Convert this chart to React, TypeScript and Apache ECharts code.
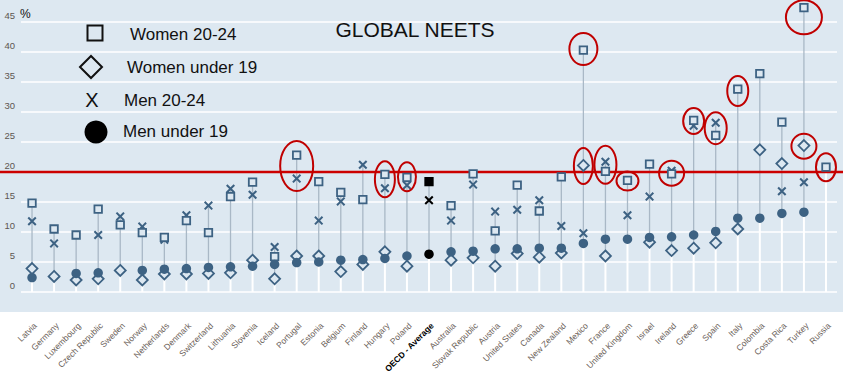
import React, { useEffect, useRef } from "react";
import * as echarts from "echarts";

const categories = [
  "Latvia", "Germany", "Luxembourg", "Czech Republic", "Sweden", "Norway", "Netherlands",
  "Denmark", "Switzerland", "Lithuania", "Slovenia", "Iceland", "Portugal", "Estonia",
  "Belgium", "Finland", "Hungary", "Poland", "OECD - Average", "Australia", "Slovak Republic",
  "Austria", "United States", "Canada", "New Zealand", "Mexico", "France", "United Kingdom",
  "Israel", "Ireland", "Greece", "Spain", "Italy", "Colombia", "Costa Rica", "Turkey", "Russia",
];

// Women 20-24 (squares)
const women2024: (number | null)[] = [
  14.8, 10.5, 9.5, 13.8, 11.2, 9.9, 9.1, 11.9, 9.9, 15.9, 18.3, 5.9, 22.8, 18.4,
  16.6, 15.4, 19.6, 19.1, 18.4, 14.4, 19.7, 10.2, 17.8, 13.5, 19.2, 40.3, 20.1, 18.6,
  21.3, 19.7, 28.6, 26.1, 33.8, 36.4, 28.3, 47.4, 20.8,
];
// Women under 19 (diamonds)
const womenUnder19: (number | null)[] = [
  3.9, 2.6, 2.0, 2.2, 3.6, 2.0, 3.0, 3.0, 3.1, 3.2, 5.3, 2.2, 6.0, 6.0,
  3.4, 4.6, 6.7, 4.3, null, 5.3, 5.7, 4.3, 6.4, 5.8, 6.5, 21.1, 6.0, null,
  8.3, 6.9, 7.3, 8.2, 10.5, 23.7, 21.4, 24.4, null,
];
// Men 20-24 (crosses)
const men2024: (number | null)[] = [
  11.8, 8.1, null, 9.5, 12.6, 10.9, 8.7, 12.8, 14.4, 17.2, 16.2, 7.5, 18.9, 11.9,
  15.1, 21.2, 17.3, 17.8, 15.3, 11.9, 17.9, 13.4, 13.7, 15.3, 11.0, 9.8, 21.7, 12.8,
  15.9, 20.2, 27.7, 28.2, 33.8, null, 16.8, 18.3, null,
];
// Men under 19 (circles)
const menUnder19: (number | null)[] = [
  2.4, null, 3.1, 3.2, null, 3.6, 3.8, 3.9, 4.1, 4.2, 4.3, 4.6, 4.9, 5.0,
  5.3, 5.4, 5.6, 6.0, 6.3, 6.7, 6.8, 7.2, 7.2, 7.3, 7.3, 8.1, 8.8, 8.8,
  9.1, 9.2, 9.5, 10.1, 12.3, 12.3, 13.1, 13.3, null,
];

const yMin = 0;
const yMax = 45;
const yInterval = 5;
const referenceLevel = 20;
const averageCategory = "OECD - Average";

// highlighted points: category and centre value of the red ring
const highlightCats = ["Portugal", "Hungary", "Poland", "Mexico", "Mexico", "France", "United Kingdom", "Ireland", "Greece", "Spain", "Italy", "Turkey", "Turkey", "Russia"];
const highlightValues = [21.0, 18.8, 19.2, 40.5, 21.0, 21.2, 18.5, 19.8, 28.5, 27.3, 33.5, 45.8, 24.3, 20.8];
const highlightRx = [16.5, 10, 9, 14, 9.5, 11, 11, 12.5, 10.5, 11, 10.5, 18, 12.5, 10];
const highlightRy = [25, 18, 14.5, 16, 18, 19, 9.5, 12.5, 13, 16, 15, 17, 12.5, 14];

const MARK = "#3d6283";
const BG = "#dde8f1";
const FONT = "Liberation Sans, Arial, sans-serif";
const X_PATH = "path://M0,1.6L1.6,0L5,3.4L8.4,0L10,1.6L6.6,5L10,8.4L8.4,10L5,6.6L1.6,10L0,8.4L3.4,5Z";

function toData(arr: (number | null)[], avgStyle: any) {
  const out: any[] = [];
  arr.forEach((v, i) => {
    if (v == null) return;
    if (categories[i] === averageCategory) out.push({ value: [i, v], itemStyle: avgStyle });
    else out.push({ value: [i, v] });
  });
  return out;
}

export default function App() {
  const ref = useRef<HTMLDivElement>(null);
  useEffect(() => {
    const chart = echarts.init(ref.current!, null, { renderer: "svg" });

    const rangeData = categories.map((_, i) => {
      const vals = [women2024[i], womenUnder19[i], men2024[i], menUnder19[i]].filter((v) => v != null) as number[];
      return [i, Math.min(...vals), Math.max(...vals)];
    });

    const option: any = {
      animation: false,
      backgroundColor: "#ffffff",
      grid: { left: 21, right: 6, top: 22, bottom: 88, containLabel: false },
      xAxis: {
        type: "category",
        data: categories,
        boundaryGap: true,
        axisLine: { show: false },
        axisTick: { show: false },
        splitLine: { show: false },
        axisLabel: {
          interval: 0,
          rotate: 45,
          fontSize: 8.5,
          fontFamily: FONT,
          color: "#6b6159",
          margin: 29,
          verticalAlign: "top",
          formatter: (v: string) => (v === averageCategory ? "{b|" + v + "}" : v),
          rich: { b: { fontWeight: "bold", color: "#000", fontSize: 8.5, fontFamily: FONT } },
        },
      },
      yAxis: {
        type: "value",
        min: yMin,
        max: yMax,
        interval: yInterval,
        axisLine: { show: false },
        axisTick: { show: false },
        splitLine: { lineStyle: { color: "#ffffff", width: 1.6 } },
        axisLabel: {
          fontSize: 9.5,
          fontFamily: FONT,
          color: "#5e5650",
          margin: 6,
          verticalAlign: "bottom",
          padding: [0, 0, 2, 0],
        },
      },
      series: [
        {
          type: "custom",
          name: "range",
          z: 1,
          clip: false,
          encode: { x: 0, y: [1, 2] },
          data: rangeData,
          renderItem: (params: any, api: any) => {
            const i = api.value(0);
            const lo = api.value(1);
            const hi = api.value(2);
            const p0 = api.coord([i, 0]);
            const pl = api.coord([i, lo]);
            const ph = api.coord([i, hi]);
            return {
              type: "group",
              children: [
                { type: "line", shape: { x1: p0[0], y1: p0[1], x2: pl[0], y2: pl[1] }, style: { stroke: "#ffffff", lineWidth: 2 } },
                { type: "line", shape: { x1: pl[0], y1: pl[1], x2: ph[0], y2: ph[1] }, style: { stroke: "#a9b8c6", lineWidth: 1.3 } },
              ],
            };
          },
        },
        {
          type: "scatter",
          name: "Men 20-24",
          z: 3,
          clip: false,
          symbol: X_PATH,
          symbolSize: 9,
          itemStyle: { color: MARK, opacity: 1 },
          data: toData(men2024, { color: "#000" }),
        },
        {
          type: "scatter",
          name: "Women 20-24",
          z: 4,
          clip: false,
          symbol: "rect",
          symbolSize: 7.5,
          itemStyle: { color: BG, borderColor: MARK, borderWidth: 1.8, opacity: 1 },
          data: toData(women2024, { color: "#000", borderColor: "#000" }),
        },
        {
          type: "scatter",
          name: "Women under 19",
          z: 3,
          clip: false,
          symbol: "diamond",
          symbolSize: 11,
          itemStyle: { color: BG, borderColor: MARK, borderWidth: 1.8, opacity: 1 },
          data: toData(womenUnder19, { borderColor: "#000" }),
        },
        {
          type: "scatter",
          name: "Men under 19",
          z: 4,
          clip: false,
          symbol: "circle",
          symbolSize: 9.5,
          itemStyle: { color: MARK, opacity: 1 },
          data: toData(menUnder19, { color: "#000" }),
        },
      ],
    };
    chart.setOption(option);

    const yRef = chart.convertToPixel({ gridIndex: 0 }, [0, referenceLevel])[1];
    const rings = highlightCats.map((c, k) => {
      const p = chart.convertToPixel({ gridIndex: 0 }, [categories.indexOf(c), highlightValues[k]]);
      return {
        type: "ellipse",
        z: 20,
        silent: true,
        shape: { cx: p[0], cy: p[1], rx: highlightRx[k], ry: highlightRy[k] },
        style: { fill: "none", stroke: "#c00000", lineWidth: 2 },
      };
    });

    const legendText = (x: number, y: number, t: string) => ({
      type: "text",
      z: 20,
      x,
      y,
      style: { text: t, fontSize: 17, fontFamily: FONT, fill: "#111", textAlign: "left", textVerticalAlign: "middle" },
    });

    chart.setOption({
      graphic: {
        elements: [
          { type: "rect", z: -100, silent: true, shape: { x: 0, y: 0, width: 843, height: 312 }, style: { fill: BG } },
          { type: "line", z: 1.5, silent: true, shape: { x1: 0, y1: yRef, x2: 843, y2: yRef }, style: { stroke: "#cc0000", lineWidth: 2.5 } },
          ...rings,
          {
            type: "text", z: 20, x: 415, y: 29,
            style: { text: "GLOBAL NEETS", fontSize: 21, fontFamily: FONT, fill: "#111", textAlign: "center", textVerticalAlign: "middle" },
          },
          {
            type: "text", z: 20, x: 20, y: 14,
            style: { text: "%", fontSize: 12, fontFamily: FONT, fill: "#111", textAlign: "left", textVerticalAlign: "middle" },
          },
          { type: "rect", z: 20, shape: { x: 87.5, y: 25.5, width: 15, height: 15 }, style: { fill: "none", stroke: "#111", lineWidth: 2 } },
          legendText(130, 34, "Women 20-24"),
          { type: "polygon", z: 20, shape: { points: [[80, 67], [91, 56], [102, 67], [91, 78]] }, style: { fill: "none", stroke: "#111", lineWidth: 2 } },
          legendText(127, 67, "Women under 19"),
          {
            type: "text", z: 20, x: 92, y: 100,
            style: { text: "X", fontSize: 20, fontFamily: FONT, fill: "#111", textAlign: "center", textVerticalAlign: "middle" },
          },
          legendText(124, 100, "Men 20-24"),
          { type: "circle", z: 20, shape: { cx: 96, cy: 132, r: 11.5 }, style: { fill: "#000" } },
          legendText(123, 131, "Men under 19"),
        ],
      },
    });

    return () => chart.dispose();
  }, []);
  return <div ref={ref} style={{ position: "fixed", left: 0, top: 0, width: 843, height: 380 }} />;
}
